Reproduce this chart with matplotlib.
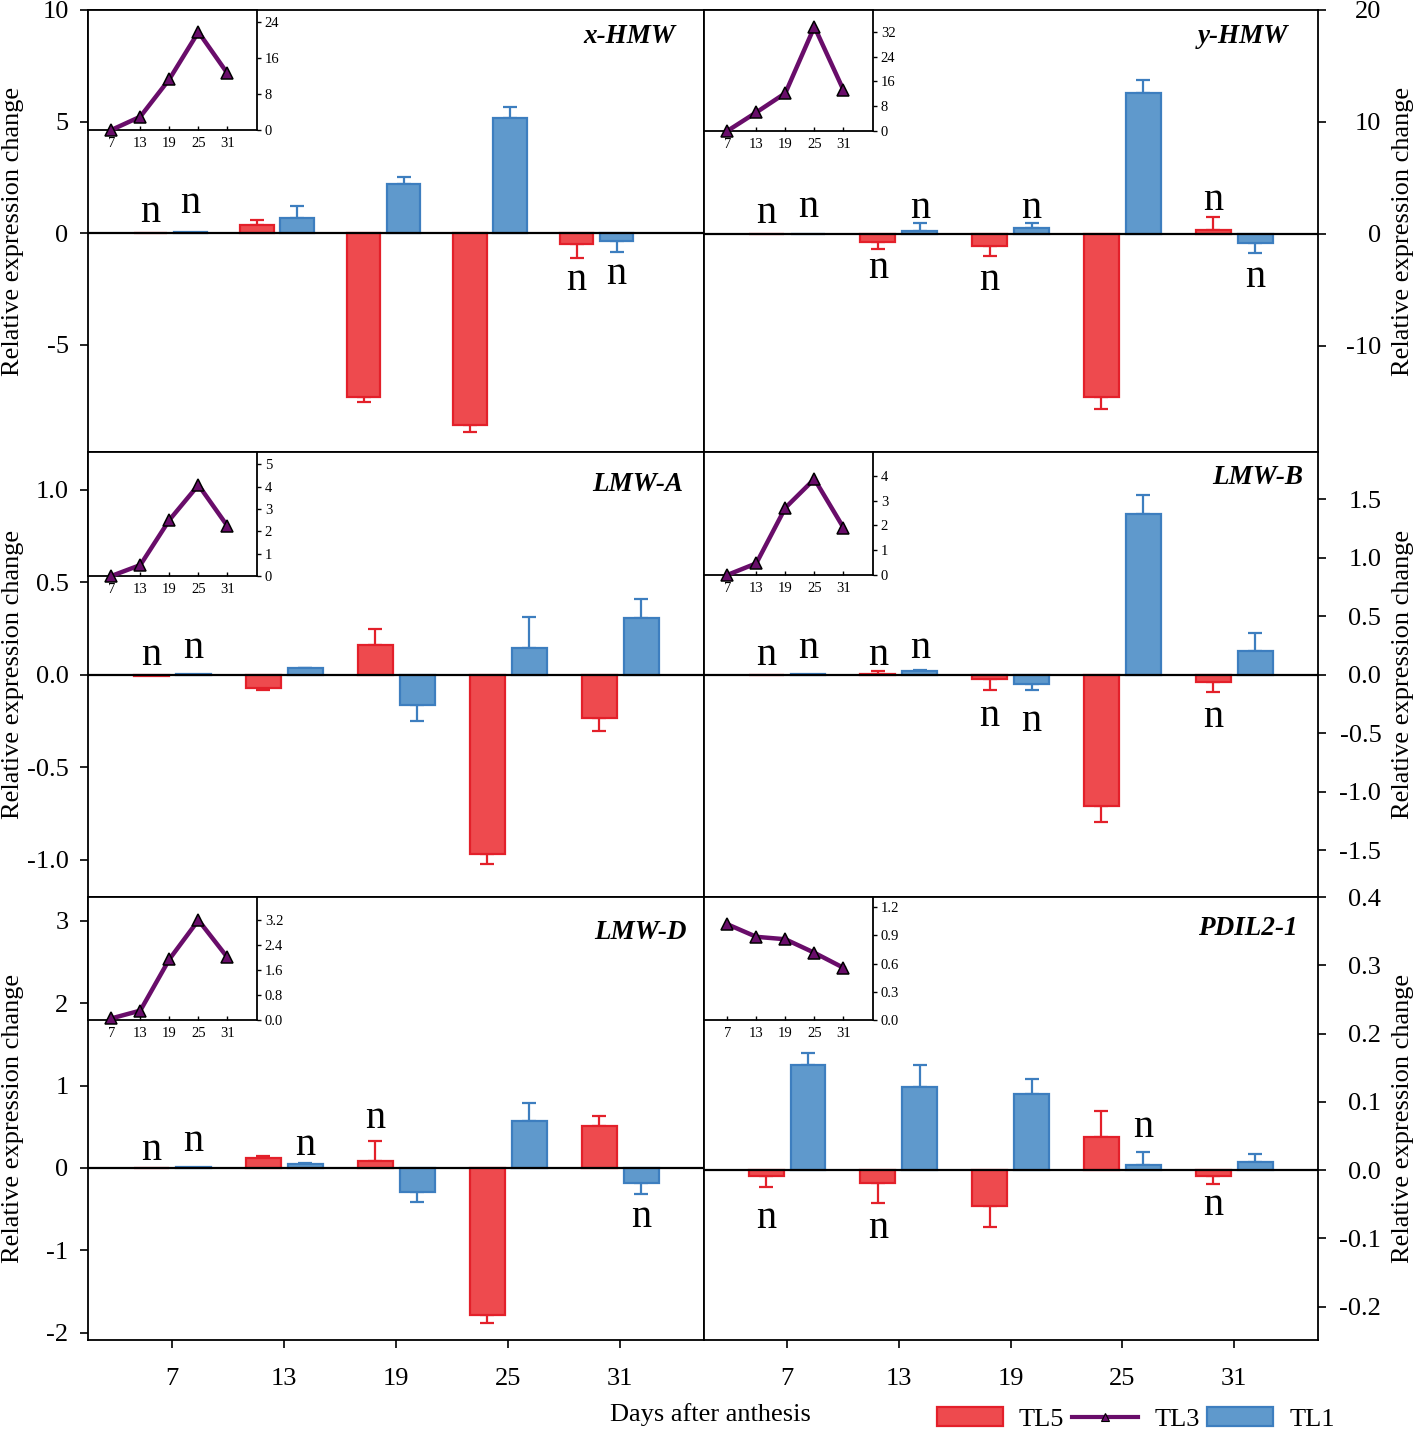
import matplotlib
matplotlib.use('Agg')
import matplotlib.pyplot as plt
from matplotlib.patches import Patch
from matplotlib.lines import Line2D
import numpy as np

plt.rcParams['font.family'] = ['Liberation Serif', 'DejaVu Serif']
plt.rcParams['axes.unicode_minus'] = False

days = [7, 13, 19, 25, 31]
titles = ['x-HMW', 'y-HMW', 'LMW-A', 'LMW-B', 'LMW-D', 'PDIL2-1']

# ---- data (TL5 red, TL1 blue bars; TL3 inset line) ----
xhmw_tl5 = [0.0, 0.35, -7.35, -8.63, -0.50]
xhmw_tl5_err = [0.0, 0.25, 0.23, 0.30, 0.60]
xhmw_tl1 = [0.05, 0.69, 2.18, 5.17, -0.37]
xhmw_tl1_err = [0.0, 0.52, 0.33, 0.46, 0.48]
xhmw_tl3 = [0.0, 2.96, 11.3, 21.8, 12.6]

yhmw_tl5 = [0.0, -0.70, -1.10, -14.6, 0.35]
yhmw_tl5_err = [0.0, 0.70, 0.85, 1.10, 1.15]
yhmw_tl1 = [0.0, 0.27, 0.50, 12.6, -0.80]
yhmw_tl1_err = [0.0, 0.73, 0.50, 1.15, 0.90]
yhmw_tl3 = [0.0, 6.0, 12.2, 33.6, 13.2]

lmwa_tl5 = [-0.005, -0.070, 0.160, -0.965, -0.232]
lmwa_tl5_err = [0.0, 0.013, 0.087, 0.058, 0.071]
lmwa_tl1 = [0.005, 0.035, -0.160, 0.146, 0.308]
lmwa_tl1_err = [0.0, 0.005, 0.089, 0.168, 0.100]
lmwa_tl3 = [0.0, 0.49, 2.51, 4.08, 2.24]

lmwb_tl5 = [-0.005, 0.010, -0.035, -1.12, -0.060]
lmwb_tl5_err = [0.0, 0.020, 0.095, 0.14, 0.090]
lmwb_tl1 = [0.005, 0.030, -0.080, 1.38, 0.205]
lmwb_tl1_err = [0.0, 0.015, 0.050, 0.16, 0.155]
lmwb_tl3 = [0.0, 0.47, 2.71, 3.87, 1.91]

lmwd_tl5 = [0.0, 0.117, 0.085, -1.79, 0.51]
lmwd_tl5_err = [0.0, 0.033, 0.245, 0.095, 0.125]
lmwd_tl1 = [0.01, 0.045, -0.29, 0.57, -0.178]
lmwd_tl1_err = [0.0, 0.012, 0.12, 0.215, 0.142]
lmwd_tl3 = [0.05, 0.30, 1.94, 3.19, 2.00]

pdil_tl5 = [-0.0083, -0.019, -0.052, 0.049, -0.0083]
pdil_tl5_err = [0.017, 0.029, 0.031, 0.037, 0.012]
pdil_tl1 = [0.154, 0.122, 0.112, 0.0078, 0.012]
pdil_tl1_err = [0.017, 0.032, 0.022, 0.018, 0.011]
pdil_tl3 = [1.02, 0.886, 0.86, 0.716, 0.556]

tl5_vals = [xhmw_tl5, yhmw_tl5, lmwa_tl5, lmwb_tl5, lmwd_tl5, pdil_tl5]
tl5_errs = [xhmw_tl5_err, yhmw_tl5_err, lmwa_tl5_err, lmwb_tl5_err, lmwd_tl5_err, pdil_tl5_err]
tl1_vals = [xhmw_tl1, yhmw_tl1, lmwa_tl1, lmwb_tl1, lmwd_tl1, pdil_tl1]
tl1_errs = [xhmw_tl1_err, yhmw_tl1_err, lmwa_tl1_err, lmwb_tl1_err, lmwd_tl1_err, pdil_tl1_err]
tl3_vals = [xhmw_tl3, yhmw_tl3, lmwa_tl3, lmwb_tl3, lmwd_tl3, pdil_tl3]

# main y ticks
main_yticks = [[-5, 0, 5, 10], [-10, 0, 10, 20],
               [-1.0, -0.5, 0.0, 0.5, 1.0], [-1.5, -1.0, -0.5, 0.0, 0.5, 1.0, 1.5],
               [-2, -1, 0, 1, 2, 3], [-0.2, -0.1, 0.0, 0.1, 0.2, 0.3, 0.4]]
main_fmt = ['%d', '%d', '%.1f', '%.1f', '%d', '%.1f']
inset_yticks = [[0, 8, 16, 24], [0, 8, 16, 24, 32], [0, 1, 2, 3, 4, 5], [0, 1, 2, 3, 4],
                [0.0, 0.8, 1.6, 2.4, 3.2], [0.0, 0.3, 0.6, 0.9, 1.2]]
inset_fmt = ['%d', '%d', '%d', '%d', '%.1f', '%.1f']

# "n" (non-significant) marks: (day index, series, label y)
n_marks = [
    [(0, 'TL5', 0.94), (0, 'TL1', 1.35), (4, 'TL5', -2.1), (4, 'TL1', -1.8)],
    [(0, 'TL5', 1.9), (0, 'TL1', 2.4), (1, 'TL5', -3.0), (1, 'TL1', 2.3),
     (2, 'TL5', -4.1), (2, 'TL1', 2.3), (4, 'TL5', 3.1), (4, 'TL1', -3.8)],
    [(0, 'TL5', 0.108), (0, 'TL1', 0.146)],
    [(0, 'TL5', 0.17), (0, 'TL1', 0.23), (1, 'TL5', 0.17), (1, 'TL1', 0.23),
     (2, 'TL5', -0.35), (2, 'TL1', -0.39), (4, 'TL5', -0.36)],
    [(0, 'TL5', 0.22), (0, 'TL1', 0.33), (1, 'TL1', 0.28), (2, 'TL5', 0.61), (4, 'TL1', -0.59)],
    [(0, 'TL5', -0.070), (1, 'TL5', -0.085), (3, 'TL1', 0.063), (4, 'TL5', -0.051)],
]

# ---- layout (figure pixels) ----
W, H = 1418, 1430
col_x = [(88, 704), (704, 1318)]
row_y = [(10, 452), (452, 897), (897, 1340)]
main_ylims = [(-9.82, 10), (-19.5, 20), (-1.2, 1.205), (-1.9, 1.906), (-2.09, 3.29), (-0.249, 0.4)]
main_xlims = [(-0.775, 5.009), (-0.743, 4.75), (-0.75, 4.75), (-0.743, 4.75), (-0.75, 4.75), (-0.743, 4.75)]
inset_bottom_px = [130, 131, 576, 575, 1020, 1020]
inset_ylims = [(0, 26.7), (0, 39), (0, 5.56), (0, 4.96), (0, 3.93), (0, 1.31)]
title_pos = [(0.953, 0.941), (0.951, 0.941), (0.966, 0.926), (0.976, 0.942), (0.972, 0.919), (0.967, 0.930)]

RED_F, RED_E = '#EE4A4E', '#E3202A'
BLUE_F, BLUE_E = '#5F99CC', '#3D7EBF'
PURPLE = '#690D6A'
FS = 19

fig = plt.figure(figsize=(W / 100, H / 100), dpi=100)

bw = 0.3125
off = 0.1875
x = np.arange(len(days))

for i in range(6):
    r, c = divmod(i, 2)
    x0, x1 = col_x[c]
    y0, y1 = row_y[r]
    ax = fig.add_axes([x0 / W, 1 - y1 / H, (x1 - x0) / W, (y1 - y0) / H])
    ax.set_xlim(*main_xlims[i])
    ax.set_ylim(*main_ylims[i])

    for vals, errs, fc, ec, sgn in [(tl5_vals[i], tl5_errs[i], RED_F, RED_E, -1),
                                   (tl1_vals[i], tl1_errs[i], BLUE_F, BLUE_E, 1)]:
        xp = x + sgn * off
        ax.bar(xp, vals, width=bw, color=fc, edgecolor=ec, linewidth=1.6, zorder=2)
        v = np.array(vals)
        e = np.array(errs)
        m = e > 0
        lo = np.where(v < 0, e, 0.0)
        hi = np.where(v >= 0, e, 0.0)
        ax.errorbar(xp[m], v[m], yerr=[lo[m], hi[m]], fmt='none', ecolor=ec,
                    elinewidth=1.6, capsize=5, capthick=1.6, zorder=1)

    ax.axhline(0, color='black', lw=1.6, zorder=3)

    for (di, ser, yy) in n_marks[i]:
        xp = di + (-off if ser == 'TL5' else off)
        ax.annotate('n', (xp, yy), xytext=(0, -7.5), textcoords='offset points',
                    ha='center', va='baseline', fontsize=29)

    ax.set_xticks(x)
    ax.tick_params(axis='x', direction='out', length=6, width=1.2, pad=14, labelsize=FS)
    if r == 2:
        ax.set_xticklabels([str(d) for d in days])
    else:
        ax.set_xticklabels([])

    ax.set_yticks(main_yticks[i])
    ax.set_yticklabels([main_fmt[i] % t for t in main_yticks[i]])
    ax.set_ylabel('Relative expression change', fontsize=FS)
    if c == 0:
        ax.tick_params(axis='y', direction='out', length=6, width=1.2, pad=8, labelsize=FS)
        ax.yaxis.set_label_coords((13 - x0) / (x1 - x0), 0.5)
    else:
        ax.yaxis.tick_right()
        ax.yaxis.set_label_position('right')
        ax.tick_params(axis='y', direction='out', length=6, width=1.2, pad=55 * 0.72, labelsize=FS)
        for lab in ax.get_yticklabels():
            lab.set_horizontalalignment('right')
        ax.yaxis.set_label_coords((1403 - x0) / (x1 - x0), 0.5)
        ax.yaxis.label.set_rotation(90)
    ax.yaxis.label.set_verticalalignment('center')
    ax.yaxis.label.set_horizontalalignment('center')
    for s in ax.spines.values():
        s.set_linewidth(1.3)

    ax.text(title_pos[i][0], title_pos[i][1], titles[i], transform=ax.transAxes,
            ha='right', va='center', fontsize=19.5, fontweight='bold', fontstyle='italic')

    # inset
    ib = inset_bottom_px[i]
    iw = 168.5
    ins = fig.add_axes([x0 / W, 1 - ib / H, iw / W, (ib - y0) / H])
    ins.set_facecolor('white')
    ins.plot(x, tl3_vals[i], color=PURPLE, lw=3.2, marker='^', markersize=8.5,
             markerfacecolor=PURPLE, markeredgecolor='black', markeredgewidth=1.1, clip_on=False, zorder=3)
    ins.set_xlim(-0.8, 5.0)
    ins.set_ylim(*inset_ylims[i])
    ins.set_xticks(x)
    ins.set_xticklabels([str(d) for d in days])
    ins.tick_params(axis='x', direction='in', length=3, width=1, pad=5, labelsize=10.5)
    ins.yaxis.tick_right()
    ins.set_yticks(inset_yticks[i])
    ins.set_yticklabels([inset_fmt[i] % t for t in inset_yticks[i]])
    ins.tick_params(axis='y', direction='out', length=3, width=1, pad=3, labelsize=10.5)
    for s in ins.spines.values():
        s.set_linewidth(1.3)

fig.text(710 / W, 1 - 1415 / H, 'Days after anthesis', ha='center', va='center', fontsize=FS)

handles = [Patch(facecolor=RED_F, edgecolor=RED_E, linewidth=1.6),
           Line2D([], [], color=PURPLE, lw=3, marker='^', markersize=6,
                  markerfacecolor=PURPLE, markeredgecolor='black', markeredgewidth=0.8),
           Patch(facecolor=BLUE_F, edgecolor=BLUE_E, linewidth=1.6)]
fig.legend(handles, ['TL5', 'TL3', 'TL1'], ncol=3, loc='center',
           bbox_to_anchor=(1136 / W, 1 - 1419 / H), frameon=False, fontsize=FS,
           handlelength=2.5, handletextpad=0.6, columnspacing=0.3, borderpad=0,
           borderaxespad=0)

fig.savefig('out.png', dpi=100)
